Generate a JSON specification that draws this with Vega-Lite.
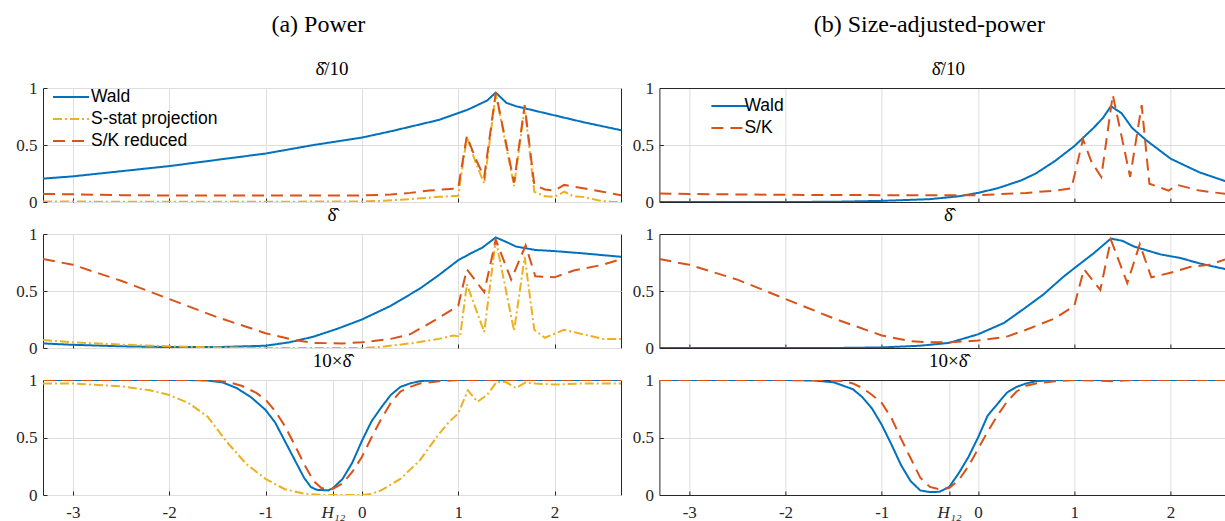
{
  "$schema": "https://vega.github.io/schema/vega-lite/v6.json",
  "padding": {"left": 15, "top": 12, "right": 0, "bottom": 0},
  "background": "white",
  "config": {
    "view": {"stroke": "#262626", "strokeWidth": 1},
    "font": "Liberation Serif",
    "axis": {"grid": true, "gridColor": "#dedede", "gridWidth": 1, "domain": false, "ticks": true, "tickSize": -4, "tickColor": "#262626", "tickWidth": 1, "labelFont": "Liberation Serif", "labelFontSize": 17, "labelColor": "#262626"},
    "axisX": {"labelPadding": 26, "labelBaseline": "alphabetic"},
    "axisY": {"labelPadding": 10},
    "title": {"font": "Liberation Serif", "fontWeight": "normal", "color": "#000"}
  },
  "datasets": {
    "a1": [
      {"s":"Wald","x":-3.31,"y":0.205},{"s":"Wald","x":-3,"y":0.225},{"s":"Wald","x":-2.5,"y":0.27},{"s":"Wald","x":-2,"y":0.315},{"s":"Wald","x":-1.5,"y":0.37},{"s":"Wald","x":-1,"y":0.425},{"s":"Wald","x":-0.5,"y":0.5},{"s":"Wald","x":0,"y":0.565},{"s":"Wald","x":0.3,"y":0.62},{"s":"Wald","x":0.6,"y":0.68},{"s":"Wald","x":0.8,"y":0.72},{"s":"Wald","x":1,"y":0.78},{"s":"Wald","x":1.1,"y":0.81},{"s":"Wald","x":1.2,"y":0.85},{"s":"Wald","x":1.3,"y":0.89},{"s":"Wald","x":1.39,"y":0.96},{"s":"Wald","x":1.5,"y":0.87},{"s":"Wald","x":1.6,"y":0.84},{"s":"Wald","x":1.8,"y":0.8},{"s":"Wald","x":2,"y":0.76},{"s":"Wald","x":2.3,"y":0.7},{"s":"Wald","x":2.69,"y":0.63},
      {"s":"S-stat projection","x":-3.31,"y":0.004},{"s":"S-stat projection","x":-2,"y":0.002},{"s":"S-stat projection","x":-1,"y":0.002},{"s":"S-stat projection","x":0,"y":0.005},{"s":"S-stat projection","x":0.2,"y":0.01},{"s":"S-stat projection","x":0.5,"y":0.025},{"s":"S-stat projection","x":0.8,"y":0.045},{"s":"S-stat projection","x":1,"y":0.055},{"s":"S-stat projection","x":1.09,"y":0.57},{"s":"S-stat projection","x":1.18,"y":0.35},{"s":"S-stat projection","x":1.27,"y":0.16},{"s":"S-stat projection","x":1.39,"y":0.95},{"s":"S-stat projection","x":1.58,"y":0.14},{"s":"S-stat projection","x":1.69,"y":0.83},{"s":"S-stat projection","x":1.79,"y":0.09},{"s":"S-stat projection","x":1.9,"y":0.05},{"s":"S-stat projection","x":2,"y":0.045},{"s":"S-stat projection","x":2.1,"y":0.09},{"s":"S-stat projection","x":2.2,"y":0.05},{"s":"S-stat projection","x":2.3,"y":0.045},{"s":"S-stat projection","x":2.45,"y":0.015},{"s":"S-stat projection","x":2.6,"y":0},{"s":"S-stat projection","x":2.69,"y":0},
      {"s":"S/K reduced","x":-3.31,"y":0.07},{"s":"S/K reduced","x":-3,"y":0.068},{"s":"S/K reduced","x":-2.5,"y":0.06},{"s":"S/K reduced","x":-2,"y":0.057},{"s":"S/K reduced","x":-1.5,"y":0.056},{"s":"S/K reduced","x":-1,"y":0.056},{"s":"S/K reduced","x":-0.5,"y":0.056},{"s":"S/K reduced","x":0,"y":0.058},{"s":"S/K reduced","x":0.3,"y":0.065},{"s":"S/K reduced","x":0.5,"y":0.08},{"s":"S/K reduced","x":0.7,"y":0.1},{"s":"S/K reduced","x":1,"y":0.12},{"s":"S/K reduced","x":1.09,"y":0.58},{"s":"S/K reduced","x":1.18,"y":0.38},{"s":"S/K reduced","x":1.27,"y":0.22},{"s":"S/K reduced","x":1.39,"y":0.96},{"s":"S/K reduced","x":1.58,"y":0.17},{"s":"S/K reduced","x":1.69,"y":0.85},{"s":"S/K reduced","x":1.79,"y":0.15},{"s":"S/K reduced","x":1.9,"y":0.11},{"s":"S/K reduced","x":2,"y":0.1},{"s":"S/K reduced","x":2.1,"y":0.15},{"s":"S/K reduced","x":2.3,"y":0.12},{"s":"S/K reduced","x":2.5,"y":0.09},{"s":"S/K reduced","x":2.69,"y":0.06}
    ],
    "a2": [
      {"s":"Wald","x":-3.31,"y":0.04},{"s":"Wald","x":-3,"y":0.028},{"s":"Wald","x":-2.5,"y":0.015},{"s":"Wald","x":-2,"y":0.008},{"s":"Wald","x":-1.5,"y":0.008},{"s":"Wald","x":-1,"y":0.02},{"s":"Wald","x":-0.75,"y":0.05},{"s":"Wald","x":-0.5,"y":0.1},{"s":"Wald","x":-0.25,"y":0.17},{"s":"Wald","x":0,"y":0.25},{"s":"Wald","x":0.3,"y":0.37},{"s":"Wald","x":0.6,"y":0.52},{"s":"Wald","x":0.8,"y":0.64},{"s":"Wald","x":1,"y":0.77},{"s":"Wald","x":1.13,"y":0.83},{"s":"Wald","x":1.25,"y":0.88},{"s":"Wald","x":1.39,"y":0.97},{"s":"Wald","x":1.5,"y":0.93},{"s":"Wald","x":1.6,"y":0.89},{"s":"Wald","x":1.8,"y":0.86},{"s":"Wald","x":2,"y":0.85},{"s":"Wald","x":2.3,"y":0.83},{"s":"Wald","x":2.69,"y":0.8},
      {"s":"S-stat projection","x":-3.31,"y":0.07},{"s":"S-stat projection","x":-3,"y":0.05},{"s":"S-stat projection","x":-2.5,"y":0.03},{"s":"S-stat projection","x":-2,"y":0.015},{"s":"S-stat projection","x":-1.5,"y":0.005},{"s":"S-stat projection","x":-1,"y":0},{"s":"S-stat projection","x":-0.5,"y":0},{"s":"S-stat projection","x":0,"y":0},{"s":"S-stat projection","x":0.2,"y":0.01},{"s":"S-stat projection","x":0.5,"y":0.04},{"s":"S-stat projection","x":0.8,"y":0.08},{"s":"S-stat projection","x":0.95,"y":0.11},{"s":"S-stat projection","x":1.02,"y":0.1},{"s":"S-stat projection","x":1.09,"y":0.56},{"s":"S-stat projection","x":1.27,"y":0.14},{"s":"S-stat projection","x":1.39,"y":0.95},{"s":"S-stat projection","x":1.58,"y":0.15},{"s":"S-stat projection","x":1.69,"y":0.8},{"s":"S-stat projection","x":1.79,"y":0.16},{"s":"S-stat projection","x":1.9,"y":0.09},{"s":"S-stat projection","x":2.1,"y":0.16},{"s":"S-stat projection","x":2.3,"y":0.12},{"s":"S-stat projection","x":2.5,"y":0.08},{"s":"S-stat projection","x":2.69,"y":0.08},
      {"s":"S/K reduced","x":-3.31,"y":0.78},{"s":"S/K reduced","x":-3,"y":0.73},{"s":"S/K reduced","x":-2.5,"y":0.59},{"s":"S/K reduced","x":-2,"y":0.43},{"s":"S/K reduced","x":-1.5,"y":0.27},{"s":"S/K reduced","x":-1,"y":0.13},{"s":"S/K reduced","x":-0.7,"y":0.07},{"s":"S/K reduced","x":-0.5,"y":0.045},{"s":"S/K reduced","x":-0.2,"y":0.04},{"s":"S/K reduced","x":0,"y":0.05},{"s":"S/K reduced","x":0.3,"y":0.08},{"s":"S/K reduced","x":0.5,"y":0.12},{"s":"S/K reduced","x":0.75,"y":0.24},{"s":"S/K reduced","x":1,"y":0.37},{"s":"S/K reduced","x":1.09,"y":0.69},{"s":"S/K reduced","x":1.27,"y":0.49},{"s":"S/K reduced","x":1.39,"y":0.95},{"s":"S/K reduced","x":1.55,"y":0.6},{"s":"S/K reduced","x":1.7,"y":0.9},{"s":"S/K reduced","x":1.8,"y":0.63},{"s":"S/K reduced","x":2,"y":0.62},{"s":"S/K reduced","x":2.2,"y":0.68},{"s":"S/K reduced","x":2.5,"y":0.73},{"s":"S/K reduced","x":2.69,"y":0.78}
    ],
    "a3": [
      {"s":"Wald","x":-3.31,"y":1},{"s":"Wald","x":-1.8,"y":1},{"s":"Wald","x":-1.6,"y":0.995},{"s":"Wald","x":-1.45,"y":0.98},{"s":"Wald","x":-1.3,"y":0.93},{"s":"Wald","x":-1.15,"y":0.85},{"s":"Wald","x":-1,"y":0.74},{"s":"Wald","x":-0.9,"y":0.63},{"s":"Wald","x":-0.8,"y":0.47},{"s":"Wald","x":-0.7,"y":0.31},{"s":"Wald","x":-0.6,"y":0.15},{"s":"Wald","x":-0.53,"y":0.07},{"s":"Wald","x":-0.47,"y":0.045},{"s":"Wald","x":-0.35,"y":0.04},{"s":"Wald","x":-0.3,"y":0.06},{"s":"Wald","x":-0.2,"y":0.14},{"s":"Wald","x":-0.1,"y":0.28},{"s":"Wald","x":0,"y":0.47},{"s":"Wald","x":0.1,"y":0.64},{"s":"Wald","x":0.2,"y":0.76},{"s":"Wald","x":0.3,"y":0.87},{"s":"Wald","x":0.4,"y":0.94},{"s":"Wald","x":0.5,"y":0.97},{"s":"Wald","x":0.6,"y":0.99},{"s":"Wald","x":0.8,"y":1},{"s":"Wald","x":2.69,"y":1},
      {"s":"S-stat projection","x":-3.31,"y":0.97},{"s":"S-stat projection","x":-3,"y":0.97},{"s":"S-stat projection","x":-2.5,"y":0.945},{"s":"S-stat projection","x":-2.2,"y":0.91},{"s":"S-stat projection","x":-2,"y":0.87},{"s":"S-stat projection","x":-1.8,"y":0.8},{"s":"S-stat projection","x":-1.6,"y":0.68},{"s":"S-stat projection","x":-1.5,"y":0.57},{"s":"S-stat projection","x":-1.4,"y":0.46},{"s":"S-stat projection","x":-1.2,"y":0.27},{"s":"S-stat projection","x":-1,"y":0.14},{"s":"S-stat projection","x":-0.8,"y":0.05},{"s":"S-stat projection","x":-0.6,"y":0.012},{"s":"S-stat projection","x":-0.4,"y":0},{"s":"S-stat projection","x":0,"y":0},{"s":"S-stat projection","x":0.1,"y":0.01},{"s":"S-stat projection","x":0.2,"y":0.04},{"s":"S-stat projection","x":0.4,"y":0.14},{"s":"S-stat projection","x":0.6,"y":0.3},{"s":"S-stat projection","x":0.8,"y":0.53},{"s":"S-stat projection","x":0.9,"y":0.63},{"s":"S-stat projection","x":1,"y":0.71},{"s":"S-stat projection","x":1.1,"y":0.91},{"s":"S-stat projection","x":1.2,"y":0.81},{"s":"S-stat projection","x":1.3,"y":0.87},{"s":"S-stat projection","x":1.4,"y":0.985},{"s":"S-stat projection","x":1.5,"y":0.98},{"s":"S-stat projection","x":1.6,"y":0.93},{"s":"S-stat projection","x":1.7,"y":0.98},{"s":"S-stat projection","x":1.8,"y":0.97},{"s":"S-stat projection","x":2,"y":0.96},{"s":"S-stat projection","x":2.3,"y":0.97},{"s":"S-stat projection","x":2.69,"y":0.97},
      {"s":"S/K reduced","x":-3.31,"y":1},{"s":"S/K reduced","x":-1.6,"y":1},{"s":"S/K reduced","x":-1.4,"y":0.985},{"s":"S/K reduced","x":-1.25,"y":0.95},{"s":"S/K reduced","x":-1.1,"y":0.89},{"s":"S/K reduced","x":-1,"y":0.83},{"s":"S/K reduced","x":-0.9,"y":0.73},{"s":"S/K reduced","x":-0.8,"y":0.6},{"s":"S/K reduced","x":-0.7,"y":0.44},{"s":"S/K reduced","x":-0.6,"y":0.27},{"s":"S/K reduced","x":-0.5,"y":0.12},{"s":"S/K reduced","x":-0.42,"y":0.06},{"s":"S/K reduced","x":-0.35,"y":0.05},{"s":"S/K reduced","x":-0.3,"y":0.055},{"s":"S/K reduced","x":-0.2,"y":0.1},{"s":"S/K reduced","x":-0.1,"y":0.2},{"s":"S/K reduced","x":0,"y":0.33},{"s":"S/K reduced","x":0.1,"y":0.5},{"s":"S/K reduced","x":0.2,"y":0.66},{"s":"S/K reduced","x":0.3,"y":0.8},{"s":"S/K reduced","x":0.4,"y":0.9},{"s":"S/K reduced","x":0.5,"y":0.94},{"s":"S/K reduced","x":0.6,"y":0.97},{"s":"S/K reduced","x":0.8,"y":0.99},{"s":"S/K reduced","x":1,"y":1},{"s":"S/K reduced","x":2.69,"y":1}
    ],
    "b1": [
      {"s":"Wald","x":-3.31,"y":0},{"s":"Wald","x":-2,"y":0},{"s":"Wald","x":-1.5,"y":0.002},{"s":"Wald","x":-1,"y":0.01},{"s":"Wald","x":-0.5,"y":0.025},{"s":"Wald","x":-0.2,"y":0.05},{"s":"Wald","x":0,"y":0.08},{"s":"Wald","x":0.2,"y":0.12},{"s":"Wald","x":0.45,"y":0.19},{"s":"Wald","x":0.6,"y":0.25},{"s":"Wald","x":0.8,"y":0.36},{"s":"Wald","x":1,"y":0.49},{"s":"Wald","x":1.2,"y":0.65},{"s":"Wald","x":1.3,"y":0.74},{"s":"Wald","x":1.38,"y":0.84},{"s":"Wald","x":1.49,"y":0.78},{"s":"Wald","x":1.6,"y":0.65},{"s":"Wald","x":1.75,"y":0.54},{"s":"Wald","x":2,"y":0.38},{"s":"Wald","x":2.3,"y":0.26},{"s":"Wald","x":2.58,"y":0.18},
      {"s":"S/K","x":-3.31,"y":0.075},{"s":"S/K","x":-3,"y":0.07},{"s":"S/K","x":-2,"y":0.063},{"s":"S/K","x":-1,"y":0.06},{"s":"S/K","x":0,"y":0.06},{"s":"S/K","x":0.5,"y":0.08},{"s":"S/K","x":0.8,"y":0.1},{"s":"S/K","x":0.97,"y":0.12},{"s":"S/K","x":1.09,"y":0.55},{"s":"S/K","x":1.18,"y":0.35},{"s":"S/K","x":1.28,"y":0.22},{"s":"S/K","x":1.4,"y":0.94},{"s":"S/K","x":1.58,"y":0.22},{"s":"S/K","x":1.7,"y":0.85},{"s":"S/K","x":1.78,"y":0.16},{"s":"S/K","x":1.98,"y":0.1},{"s":"S/K","x":2.07,"y":0.15},{"s":"S/K","x":2.3,"y":0.1},{"s":"S/K","x":2.58,"y":0.07}
    ],
    "b2": [
      {"s":"Wald","x":-3.31,"y":0},{"s":"Wald","x":-1.5,"y":0},{"s":"Wald","x":-1,"y":0.005},{"s":"Wald","x":-0.6,"y":0.02},{"s":"Wald","x":-0.3,"y":0.045},{"s":"Wald","x":0,"y":0.12},{"s":"Wald","x":0.27,"y":0.22},{"s":"Wald","x":0.47,"y":0.34},{"s":"Wald","x":0.68,"y":0.47},{"s":"Wald","x":0.88,"y":0.62},{"s":"Wald","x":1,"y":0.7},{"s":"Wald","x":1.2,"y":0.83},{"s":"Wald","x":1.38,"y":0.96},{"s":"Wald","x":1.5,"y":0.94},{"s":"Wald","x":1.62,"y":0.89},{"s":"Wald","x":1.9,"y":0.82},{"s":"Wald","x":2.1,"y":0.79},{"s":"Wald","x":2.31,"y":0.74},{"s":"Wald","x":2.58,"y":0.69},
      {"s":"S/K","x":-3.31,"y":0.78},{"s":"S/K","x":-3,"y":0.73},{"s":"S/K","x":-2.5,"y":0.6},{"s":"S/K","x":-2,"y":0.43},{"s":"S/K","x":-1.5,"y":0.26},{"s":"S/K","x":-1,"y":0.11},{"s":"S/K","x":-0.7,"y":0.06},{"s":"S/K","x":-0.5,"y":0.05},{"s":"S/K","x":-0.3,"y":0.05},{"s":"S/K","x":0,"y":0.065},{"s":"S/K","x":0.3,"y":0.1},{"s":"S/K","x":0.5,"y":0.16},{"s":"S/K","x":0.8,"y":0.26},{"s":"S/K","x":1,"y":0.37},{"s":"S/K","x":1.1,"y":0.69},{"s":"S/K","x":1.27,"y":0.51},{"s":"S/K","x":1.38,"y":0.95},{"s":"S/K","x":1.55,"y":0.57},{"s":"S/K","x":1.68,"y":0.91},{"s":"S/K","x":1.8,"y":0.62},{"s":"S/K","x":2,"y":0.66},{"s":"S/K","x":2.2,"y":0.71},{"s":"S/K","x":2.4,"y":0.73},{"s":"S/K","x":2.58,"y":0.78}
    ],
    "b3": [
      {"s":"Wald","x":-3.31,"y":1},{"s":"Wald","x":-2,"y":1},{"s":"Wald","x":-1.7,"y":0.995},{"s":"Wald","x":-1.5,"y":0.98},{"s":"Wald","x":-1.3,"y":0.92},{"s":"Wald","x":-1.2,"y":0.85},{"s":"Wald","x":-1.1,"y":0.75},{"s":"Wald","x":-1,"y":0.61},{"s":"Wald","x":-0.9,"y":0.44},{"s":"Wald","x":-0.8,"y":0.26},{"s":"Wald","x":-0.7,"y":0.12},{"s":"Wald","x":-0.6,"y":0.04},{"s":"Wald","x":-0.5,"y":0.025},{"s":"Wald","x":-0.4,"y":0.028},{"s":"Wald","x":-0.3,"y":0.07},{"s":"Wald","x":-0.2,"y":0.19},{"s":"Wald","x":-0.1,"y":0.33},{"s":"Wald","x":0,"y":0.5},{"s":"Wald","x":0.1,"y":0.69},{"s":"Wald","x":0.2,"y":0.79},{"s":"Wald","x":0.3,"y":0.89},{"s":"Wald","x":0.4,"y":0.94},{"s":"Wald","x":0.5,"y":0.97},{"s":"Wald","x":0.6,"y":0.99},{"s":"Wald","x":0.8,"y":1},{"s":"Wald","x":2.58,"y":1},
      {"s":"S/K","x":-3.31,"y":1},{"s":"S/K","x":-1.6,"y":1},{"s":"S/K","x":-1.4,"y":0.99},{"s":"S/K","x":-1.3,"y":0.97},{"s":"S/K","x":-1.2,"y":0.93},{"s":"S/K","x":-1.1,"y":0.87},{"s":"S/K","x":-1,"y":0.8},{"s":"S/K","x":-0.9,"y":0.67},{"s":"S/K","x":-0.8,"y":0.49},{"s":"S/K","x":-0.7,"y":0.32},{"s":"S/K","x":-0.6,"y":0.15},{"s":"S/K","x":-0.5,"y":0.07},{"s":"S/K","x":-0.4,"y":0.05},{"s":"S/K","x":-0.3,"y":0.06},{"s":"S/K","x":-0.2,"y":0.13},{"s":"S/K","x":-0.1,"y":0.25},{"s":"S/K","x":0,"y":0.4},{"s":"S/K","x":0.1,"y":0.55},{"s":"S/K","x":0.2,"y":0.69},{"s":"S/K","x":0.3,"y":0.81},{"s":"S/K","x":0.4,"y":0.9},{"s":"S/K","x":0.5,"y":0.95},{"s":"S/K","x":0.6,"y":0.97},{"s":"S/K","x":0.8,"y":0.99},{"s":"S/K","x":1,"y":1},{"s":"S/K","x":1.4,"y":0.99},{"s":"S/K","x":1.6,"y":1},{"s":"S/K","x":2.58,"y":1}
    ]
  },
  "hconcat": [
    {
      "title": {"text": "(a) Power", "fontSize": 24, "anchor": "middle", "offset": 23},
      "spacing": 32,
      "bounds": "flush",
      "resolve": {"scale": {"color": "independent", "strokeDash": "independent"}, "legend": {"color": "independent", "strokeDash": "independent"}},
      "vconcat": [
        {
          "width": 578, "height": 114,
          "title": {"text": "δ̂/10", "frame": "group", "anchor": "middle", "fontSize": 19, "offset": 0},
          "data": {"name": "a1"},
          "mark": {"type": "line", "strokeWidth": 2, "clip": true},
          "encoding": {
            "x": {"field": "x", "type": "quantitative", "scale": {"domain": [-3.31, 2.69], "nice": false, "zero": false}, "axis": {"title": null, "values": [-3, -2, -1, 0, 1, 2], "labels": false}},
            "y": {"field": "y", "type": "quantitative", "scale": {"domain": [0, 1], "nice": false}, "axis": {"title": null, "values": [0, 0.5, 1], "labelExpr": "'' + datum.value"}},
            "color": {"field": "s", "type": "nominal", "scale": {"domain": ["Wald", "S-stat projection", "S/K reduced"], "range": ["#0072BD", "#EDB120", "#D95319"]},
              "legend": {"title": null, "orient": "none", "legendX": 18, "legendY": -1, "symbolType": "M-2,0H2", "symbolSize": 324, "symbolStrokeWidth": 2, "labelFont": "Liberation Sans", "labelFontSize": 17.5, "labelColor": "#000", "labelOffset": 10, "rowPadding": 3, "padding": 0}},
            "strokeDash": {"field": "s", "type": "nominal", "scale": {"domain": ["Wald", "S-stat projection", "S/K reduced"], "range": [[1, 0], [9, 3, 2, 3], [12, 7]]},
              "legend": {"title": null, "orient": "none", "legendX": 18, "legendY": -1, "symbolType": "M-2,0H2", "symbolSize": 324, "symbolStrokeWidth": 2, "labelFont": "Liberation Sans", "labelFontSize": 17.5, "labelColor": "#000", "labelOffset": 10, "rowPadding": 3, "padding": 0}}
          }
        },
        {
          "width": 578, "height": 114,
          "title": {"text": "δ̂", "frame": "group", "anchor": "middle", "fontSize": 19, "offset": 0},
          "data": {"name": "a2"},
          "mark": {"type": "line", "strokeWidth": 2, "clip": true},
          "encoding": {
            "x": {"field": "x", "type": "quantitative", "scale": {"domain": [-3.31, 2.69], "nice": false, "zero": false}, "axis": {"title": null, "values": [-3, -2, -1, 0, 1, 2], "labels": false}},
            "y": {"field": "y", "type": "quantitative", "scale": {"domain": [0, 1], "nice": false}, "axis": {"title": null, "values": [0, 0.5, 1], "labelExpr": "'' + datum.value"}},
            "color": {"field": "s", "type": "nominal", "scale": {"domain": ["Wald", "S-stat projection", "S/K reduced"], "range": ["#0072BD", "#EDB120", "#D95319"]}, "legend": null},
            "strokeDash": {"field": "s", "type": "nominal", "scale": {"domain": ["Wald", "S-stat projection", "S/K reduced"], "range": [[1, 0], [9, 3, 2, 3], [12, 7]]}, "legend": null}
          }
        },
        {
          "width": 578, "height": 115,
          "title": {"text": "10×δ̂", "frame": "group", "anchor": "middle", "fontSize": 19, "offset": 0},
          "data": {"name": "a3"},
          "mark": {"type": "line", "strokeWidth": 2, "clip": true},
          "encoding": {
            "x": {"field": "x", "type": "quantitative", "scale": {"domain": [-3.31, 2.69], "nice": false, "zero": false}, "axis": {"title": null, "values": [-3, -2, -1, -0.3, 0, 1, 2], "labelExpr": "datum.value == -0.3 ? 'H₁₂' : '' + datum.value", "labelFontStyle": {"condition": {"test": "datum.value == -0.3", "value": "italic"}, "value": "normal"}}},
            "y": {"field": "y", "type": "quantitative", "scale": {"domain": [0, 1], "nice": false}, "axis": {"title": null, "values": [0, 0.5, 1], "labelExpr": "'' + datum.value"}},
            "color": {"field": "s", "type": "nominal", "scale": {"domain": ["Wald", "S-stat projection", "S/K reduced"], "range": ["#0072BD", "#EDB120", "#D95319"]}, "legend": null},
            "strokeDash": {"field": "s", "type": "nominal", "scale": {"domain": ["Wald", "S-stat projection", "S/K reduced"], "range": [[1, 0], [9, 3, 2, 3], [12, 7]]}, "legend": null}
          }
        }
      ]
    },
    {
      "title": {"text": "(b) Size-adjusted-power", "fontSize": 24, "anchor": "middle", "offset": 23},
      "spacing": 32,
      "bounds": "flush",
      "resolve": {"scale": {"color": "independent", "strokeDash": "independent"}, "legend": {"color": "independent", "strokeDash": "independent"}},
      "vconcat": [
        {
          "width": 567, "height": 114,
          "view": {"stroke": null},
          "title": {"text": "δ̂/10", "frame": "group", "anchor": "middle", "fontSize": 19, "offset": 0, "dx": 5.5},
          "data": {"name": "b1"},
          "mark": {"type": "line", "strokeWidth": 2, "clip": true},
          "encoding": {
            "x": {"field": "x", "type": "quantitative", "scale": {"domain": [-3.31, 2.58], "nice": false, "zero": false}, "axis": {"title": null, "values": [-3, -2, -1, 0, 1, 2], "labels": false}},
            "y": {"field": "y", "type": "quantitative", "scale": {"domain": [0, 1], "nice": false}, "axis": {"title": null, "values": [0, 0.5, 1], "labelExpr": "'' + datum.value", "domain": true, "domainColor": "#262626", "gridColor": {"condition": {"test": "datum.value == 0.5", "value": "#dedede"}, "value": "#262626"}}},
            "color": {"field": "s", "type": "nominal", "scale": {"domain": ["Wald", "S/K"], "range": ["#0072BD", "#D95319"]},
              "legend": {"title": null, "orient": "none", "legendX": 60, "legendY": 8, "symbolType": "M-2,0H2", "symbolSize": 324, "symbolStrokeWidth": 2, "labelFont": "Liberation Sans", "labelFontSize": 17.5, "labelColor": "#000", "labelOffset": 5, "rowPadding": 3, "padding": 0}},
            "strokeDash": {"field": "s", "type": "nominal", "scale": {"domain": ["Wald", "S/K"], "range": [[1, 0], [12, 7]]},
              "legend": {"title": null, "orient": "none", "legendX": 60, "legendY": 8, "symbolType": "M-2,0H2", "symbolSize": 324, "symbolStrokeWidth": 2, "labelFont": "Liberation Sans", "labelFontSize": 17.5, "labelColor": "#000", "labelOffset": 5, "rowPadding": 3, "padding": 0}}
          }
        },
        {
          "width": 567, "height": 114,
          "view": {"stroke": null},
          "title": {"text": "δ̂", "frame": "group", "anchor": "middle", "fontSize": 19, "offset": 0, "dx": 5.5},
          "data": {"name": "b2"},
          "mark": {"type": "line", "strokeWidth": 2, "clip": true},
          "encoding": {
            "x": {"field": "x", "type": "quantitative", "scale": {"domain": [-3.31, 2.58], "nice": false, "zero": false}, "axis": {"title": null, "values": [-3, -2, -1, 0, 1, 2], "labels": false}},
            "y": {"field": "y", "type": "quantitative", "scale": {"domain": [0, 1], "nice": false}, "axis": {"title": null, "values": [0, 0.5, 1], "labelExpr": "'' + datum.value", "domain": true, "domainColor": "#262626", "gridColor": {"condition": {"test": "datum.value == 0.5", "value": "#dedede"}, "value": "#262626"}}},
            "color": {"field": "s", "type": "nominal", "scale": {"domain": ["Wald", "S/K"], "range": ["#0072BD", "#D95319"]}, "legend": null},
            "strokeDash": {"field": "s", "type": "nominal", "scale": {"domain": ["Wald", "S/K"], "range": [[1, 0], [12, 7]]}, "legend": null}
          }
        },
        {
          "width": 567, "height": 115,
          "view": {"stroke": null},
          "title": {"text": "10×δ̂", "frame": "group", "anchor": "middle", "fontSize": 19, "offset": 0, "dx": 5.5},
          "data": {"name": "b3"},
          "mark": {"type": "line", "strokeWidth": 2, "clip": true},
          "encoding": {
            "x": {"field": "x", "type": "quantitative", "scale": {"domain": [-3.31, 2.58], "nice": false, "zero": false}, "axis": {"title": null, "values": [-3, -2, -1, -0.3, 0, 1, 2], "labelExpr": "datum.value == -0.3 ? 'H₁₂' : '' + datum.value", "labelFontStyle": {"condition": {"test": "datum.value == -0.3", "value": "italic"}, "value": "normal"}}},
            "y": {"field": "y", "type": "quantitative", "scale": {"domain": [0, 1], "nice": false}, "axis": {"title": null, "values": [0, 0.5, 1], "labelExpr": "'' + datum.value", "domain": true, "domainColor": "#262626", "gridColor": {"condition": {"test": "datum.value == 0.5", "value": "#dedede"}, "value": "#262626"}}},
            "color": {"field": "s", "type": "nominal", "scale": {"domain": ["Wald", "S/K"], "range": ["#0072BD", "#D95319"]}, "legend": null},
            "strokeDash": {"field": "s", "type": "nominal", "scale": {"domain": ["Wald", "S/K"], "range": [[1, 0], [12, 7]]}, "legend": null}
          }
        }
      ]
    }
  ],
  "spacing": 9.4,
  "resolve": {"scale": {"color": "independent", "strokeDash": "independent"}, "legend": {"color": "independent", "strokeDash": "independent"}}
}
